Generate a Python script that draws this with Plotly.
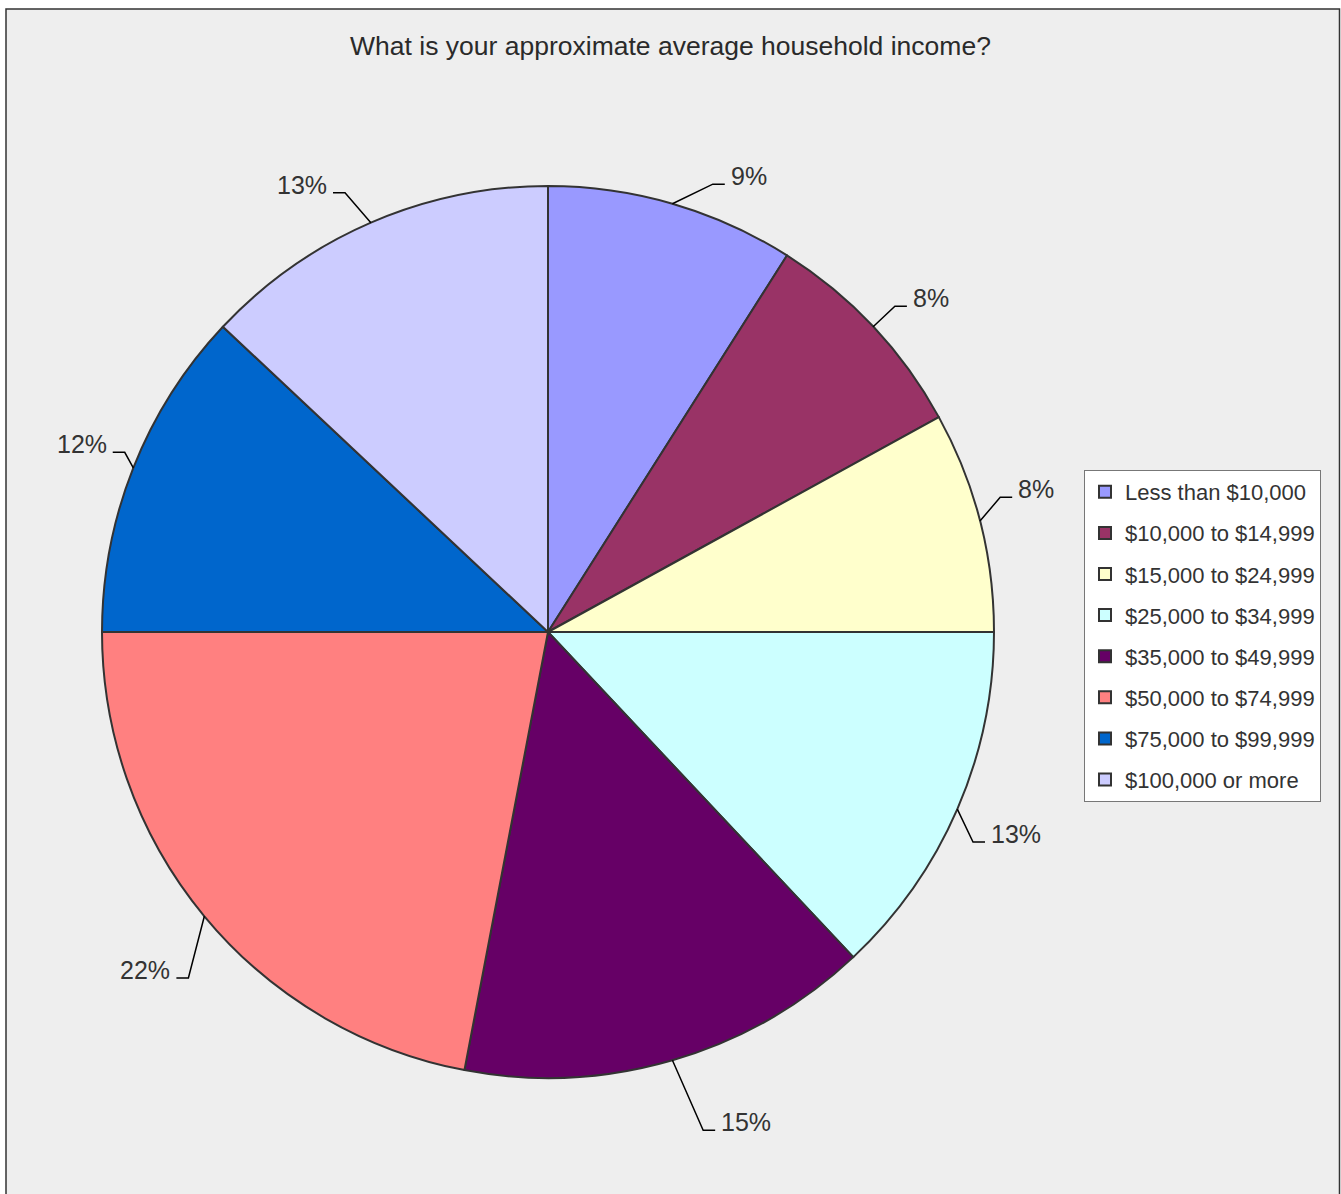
import numpy as np
import plotly.graph_objects as go

W, H = 1341, 1194

title = "What is your approximate average household income?"
categories = ["Less than $10,000", "$10,000 to $14,999", "$15,000 to $24,999",
              "$25,000 to $34,999", "$35,000 to $49,999", "$50,000 to $74,999",
              "$75,000 to $99,999", "$100,000 or more"]
percent = [9, 8, 8, 13, 15, 22, 12, 13]
colors = ["#9999FF", "#993366", "#FFFFCC", "#CCFFFF", "#660066", "#FF8080", "#0066CC", "#CCCCFF"]

# label placement nudges (leader elbow radius factor, angle offset in degrees)
label_radius = [1.07, 1.067, 1.058, 1.063, 1.17, 1.119, 1.031, 1.085]
label_dangle = [4.0, 0.0, -2.2, 2.9, -1.1, -4.3, 1.4, -1.4]

# pie geometry in pixels
CX, CY, R = 548, 632, 446
FONT = "Liberation Sans, Arial, sans-serif"

def px(x):
    return x / W

def py(y):
    return 1 - y / H

fig = go.Figure()
fig.add_trace(go.Pie(
    labels=categories, values=percent, sort=False, direction="clockwise", rotation=0,
    marker=dict(colors=colors, line=dict(color="#333333", width=2)),
    textinfo="none", showlegend=False,
    domain=dict(x=[px(CX - R), px(CX + R)], y=[py(CY + R), py(CY - R)]),
))

# legend via proxy traces (allows item spacing like the reference)
for i, (c, col) in enumerate(zip(categories, colors)):
    fig.add_trace(go.Scatter(
        x=[None], y=[None], mode="markers", name=c, legendgroup=f"g{i}",
        marker=dict(symbol="square", size=10, color=col, line=dict(color="#333333", width=1.5)),
    ))

shapes = [dict(type="rect", xref="paper", yref="paper", x0=px(6), x1=px(1339.5), y0=py(1220), y1=py(9),
               fillcolor="#EEEEEE", line=dict(color="#333333", width=1.5), layer="below")]
annotations = []

vals = np.array(percent, dtype=float)
cum = np.cumsum(vals) - vals / 2
mid = cum / vals.sum() * 2 * np.pi  # clockwise from 12 o'clock
for v, a, rf, da in zip(percent, mid, label_radius, label_dangle):
    ex, ey = CX + R * np.sin(a), CY - R * np.cos(a)
    b = a + np.radians(da)
    r2 = R * rf
    kx, ky = CX + r2 * np.sin(b), CY - r2 * np.cos(b)
    side = 1 if np.sin(a) >= 0 else -1
    hx = kx + side * 12
    shapes.append(dict(type="path", xref="paper", yref="paper",
                       path=f"M {px(ex)} {py(ey)} L {px(kx)} {py(ky)} L {px(hx)} {py(ky)}",
                       line=dict(color="#000000", width=1.5)))
    annotations.append(dict(x=px(hx + side * 4), y=py(ky - 8), xref="paper", yref="paper",
                            text=f"{v}%", showarrow=False,
                            xanchor="left" if side > 0 else "right", yanchor="middle",
                            font=dict(family=FONT, size=25, color="#333333")))

fig.update_layout(
    width=W, height=H, margin=dict(l=0, r=0, t=0, b=0),
    paper_bgcolor="#FFFFFF", plot_bgcolor="rgba(0,0,0,0)",
    title=dict(text=title, x=0.5, xanchor="center", y=py(46), yanchor="middle",
               font=dict(family=FONT, size=26.5, color="#2a2a2a")),
    xaxis=dict(visible=False), yaxis=dict(visible=False),
    legend=dict(x=px(1084), y=py(470), xanchor="left", yanchor="top",
                bgcolor="#FFFFFF", bordercolor="#777777", borderwidth=1,
                font=dict(family=FONT, size=22, color="#333333"),
                tracegroupgap=9.5, itemsizing="constant"),
    shapes=shapes, annotations=annotations,
)

fig.write_html("out.html", config={"displayModeBar": False},
               post_script="document.body.style.margin='0';")
